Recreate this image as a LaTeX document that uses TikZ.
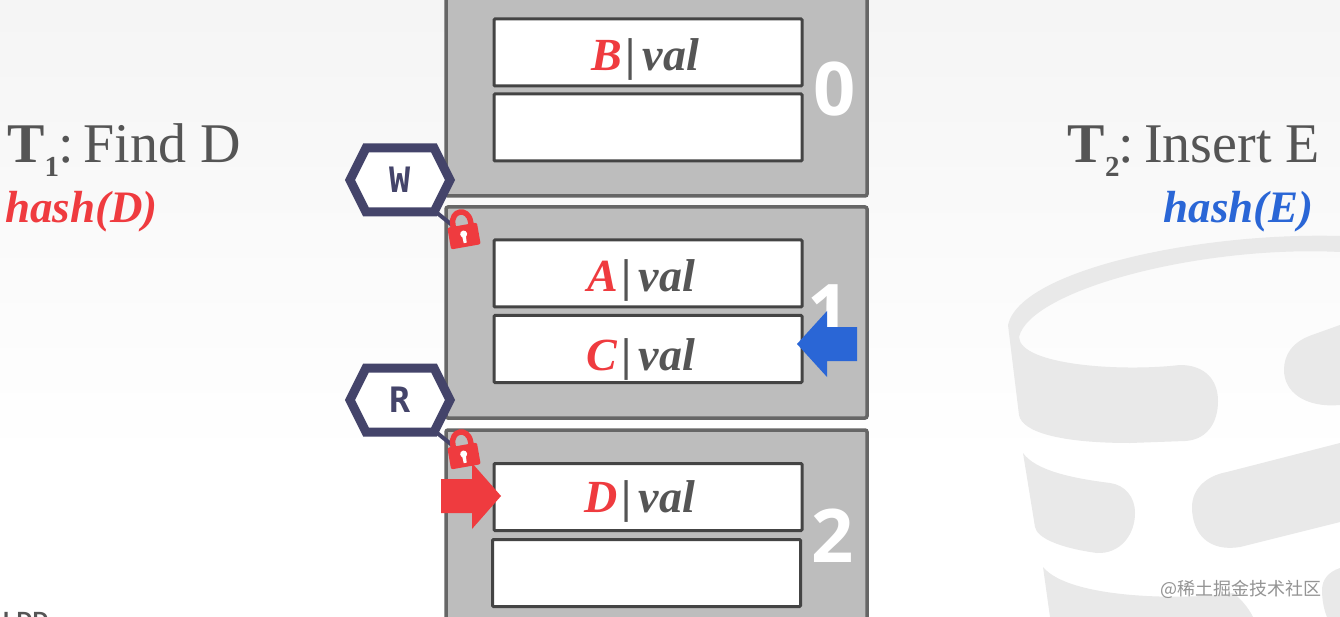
\documentclass[tikz,border=0pt]{standalone}
\usepackage{fontspec}
\setmainfont{Liberation Serif}
\newfontfamily\digitfont{Open Sans}
\newfontfamily\tagfont{DejaVu Sans Mono}
\newfontfamily\footfont{Liberation Sans}
\newfontfamily\cjkfont{Noto Sans CJK SC}
\usetikzlibrary{arrows,arrows.meta}

\definecolor{hashred}{HTML}{EF3B3F}
\definecolor{hashblue}{HTML}{2A66D6}
\definecolor{bucketgray}{HTML}{BDBDBD}
\definecolor{bucketline}{HTML}{666666}
\definecolor{slotline}{HTML}{444444}
\definecolor{textgray}{HTML}{555555}
\definecolor{tagblue}{HTML}{44446A}
\definecolor{logogray}{HTML}{E9E9E9}

% key, right end of the text past the centre, drop of the baseline
\newcommand{\slotkey}[3]{\raisebox{-#3pt}[0pt][0pt]{\makebox[0pt][r]{{\color{hashred}\textbf{\textit{#1}}}\hspace{4pt}{\bfseries|}\hspace{7pt}\textbf{\textit{val}}\hspace{-#2pt}}}}
\newcommand{\txnname}[2]{\textbf{T}\raisebox{-14pt}{\fontsize{29}{29}\selectfont\textbf{#1}}\hspace{-1pt}:\hspace{10pt}#2}

\tikzset{
	bucket/.style={draw=bucketline, fill=bucketgray, line width=3.5pt, rounded corners=2pt},
	slotbox/.style={draw=slotline, fill=white, line width=3pt, rounded corners=1pt, inner sep=0pt, minimum width=308pt, minimum height=67pt, text=textgray, font=\fontsize{46}{50}\selectfont},
	bucketnum/.style={text=white, inner sep=0pt, font=\digitfont\bfseries\fontsize{74}{74}\selectfont},
	txnlabel/.style={text=textgray, inner sep=0pt, font=\fontsize{56}{60}\selectfont},
	hashlabel/.style={inner sep=0pt, font=\bfseries\itshape\fontsize{45}{50}\selectfont},
	taghex/.style={draw=tagblue, fill=white, line width=9pt, miter limit=10},
	tagname/.style={text=tagblue, inner sep=0pt, minimum width=72pt, minimum height=64pt, font=\tagfont\bfseries\fontsize{35}{35}\selectfont},
	padlock/.pic={
		\fill [hashred, rounded corners=2pt] (-15,-11) rectangle (15,11);
		\draw [hashred, line width=5.5pt] (-9,-9) -- (-9,-13) .. controls (-9,-28) and (9,-28) .. (9,-13) -- (9,-9);
		\fill [white] (0,-2) circle (3.5pt);
		\fill [white] (-2,-2) -- (2,-2) -- (1.5,7) -- (-1.5,7) -- cycle;
	},
}

\begin{document}
\begin{tikzpicture}[x=1pt, y=-1pt]
	\useasboundingbox (0,0) rectangle (1340,617);
	\clip (0,0) rectangle (1340,617);

	% backdrop
	\fill [white] (0,0) rectangle (1340,617);
	\shade [top color=black!4, bottom color=white] (0,0) rectangle (1340,460);

	% logo
	\fill [logogray] (1340,236) .. controls (1200,232) and (1020,270) .. (1008,325) -- (1019,415)
		.. controls (1022,432) and (1060,443) .. (1130,443) -- (1185,441)
		.. controls (1205,440) and (1218,425) .. (1218,401) .. controls (1218,380) and (1205,365) .. (1180,365)
		.. controls (1120,372) and (1020,365) .. (1019,337) .. controls (1030,290) and (1200,245) .. (1340,252) -- cycle;
	\fill [logogray] (1340,325) -- (1312,335) .. controls (1292,342) and (1284,355) .. (1284,370)
		.. controls (1284,392) and (1305,408) .. (1340,405) -- cycle;
	\fill [logogray] (1023,453) -- (1035,527) .. controls (1037,538) and (1060,548) .. (1097,553)
		.. controls (1120,554) and (1135,535) .. (1135,513) .. controls (1135,497) and (1125,485) .. (1110,483)
		.. controls (1070,478) and (1035,470) .. (1023,453) -- cycle;
	\fill [logogray] (1340,443) -- (1227,472) .. controls (1205,476) and (1192,490) .. (1192,507)
		.. controls (1192,535) and (1210,552) .. (1240,547) -- (1340,522) -- cycle;
	\fill [logogray] (1043,567) -- (1050,617) -- (1253,617) .. controls (1248,607) and (1240,598) .. (1233,593)
		.. controls (1190,600) and (1070,600) .. (1043,567) -- cycle;
	\fill [logogray] (1340,568) .. controls (1328,572) and (1322,580) .. (1322,590)
		.. controls (1322,600) and (1324,610) .. (1327,617) -- (1340,617) -- cycle;

	% buckets
	\foreach \bname/\btop/\bbot in {zero/-10/196, one/207/418, two/430/630} {
		\draw [bucket] (446,\btop) rectangle (867,\bbot);
	}
	\node [bucketnum] (numzero) at (835,89) {0};
	\node [bucketnum] (numone) at (829,311) {1};
	\node [bucketnum] (numtwo) at (833,536) {2};

	% slots
	\foreach \sname/\sx/\sy/\skey in {
		sb/648/52.5/\slotkey{B}{51}{18}, se/648/127.5/{},
		sa/648/273.5/\slotkey{A}{47}{18.5}, sc/648/349/\slotkey{C}{47}{21},
		sd/648/497/\slotkey{D}{47}{15}, sf/646.5/573/{}
	} {
		\node [slotbox] (\sname) at (\sx,\sy) {\skey};
	}

	% latches
	\foreach \lname/\ltext/\ly in {w/W/180, r/R/400} {
		\coordinate (\lname pos) at (400,\ly);
		\coordinate (\lname lock) at (464,\ly+56);
		\coordinate (\lname tail) at (452,\ly+45);
		\draw [taghex, shift={(\lname pos)}] (-50,0) -- (-34,-32) -- (34,-32) -- (50,0) -- (34,32) -- (-34,32) -- cycle;
		\node [tagname] (\lname) at (\lname pos) {\ltext};
		\draw [tagblue, line width=4pt] (\lname.south east) -- (\lname tail);
		\pic [rotate=10] at (\lname lock) {padlock};
	}

	% cursors
	\fill [hashred, shift={(501,496)}] (0,0) -- (-29,-33) -- (-29,-17) -- (-60,-17) -- (-60,17) -- (-29,17) -- (-29,33) -- cycle;
	\fill [hashblue, shift={(797,344)}, xscale=-1] (0,0) -- (-30,-33) -- (-30,-17) -- (-60,-17) -- (-60,17) -- (-30,17) -- (-30,33) -- cycle;

	% transactions
	\node [txnlabel, anchor=base west] (tone) at (7,163) {\txnname{1}{Find D}};
	\node [hashlabel, anchor=base west, text=hashred] (hone) at (5,223) {hash(D)};
	\node [txnlabel, anchor=base east] (ttwo) at (1320,163) {\txnname{2}{Insert E}};
	\node [hashlabel, anchor=base east, text=hashblue] (htwo) at (1314,223) {hash(E)};

	\node [anchor=base east, inner sep=0pt, text=black!42, font=\cjkfont\fontsize{18}{18}\selectfont] (mark) at (1322,595) {@稀土掘金技术社区};
	\node [anchor=base west, inner sep=0pt, text=textgray, font=\footfont\bfseries\fontsize{22}{22}\selectfont] (foot) at (3,627) {LDD};
\end{tikzpicture}
\end{document}
